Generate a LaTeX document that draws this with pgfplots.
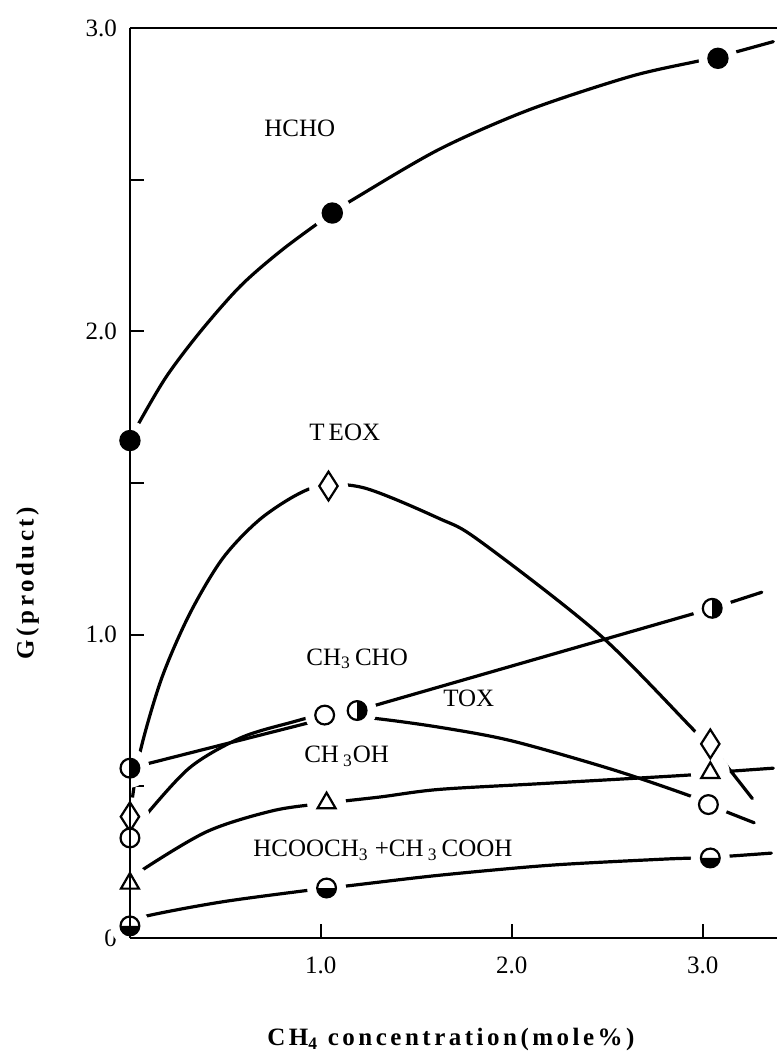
\documentclass[border=0pt]{standalone}
\usepackage{fontspec}
\setmainfont{Liberation Serif}
\newfontfamily\axfont[LetterSpace=14]{Liberation Serif}
\usepackage{pgfplots}
\pgfplotsset{compat=1.18}
\usetikzlibrary{calc}

\pgfplotsset{
  layers/gaplayers/.define layer set={
    axis background,axis grid,axis ticks,axis tick labels,pre main,main,axis lines,axis descriptions,axis foreground
  }{
    grid style={/pgfplots/on layer=axis grid},
    tick style={/pgfplots/on layer=axis ticks},
    axis line style={/pgfplots/on layer=axis lines},
    label style={/pgfplots/on layer=axis descriptions},
    ticklabel style={/pgfplots/on layer=axis tick labels},
  },
}

\pgfdeclareplotmark{halfright}{%
  \pgfscope
  \pgfpathcircle{\pgfpointorigin}{\pgfplotmarksize}%
  \pgfsetfillcolor{white}\pgfusepath{fill}%
  \endpgfscope
  \pgfscope
  \pgfpathmoveto{\pgfqpoint{0pt}{\pgfplotmarksize}}%
  \pgfpatharc{90}{-90}{\pgfplotmarksize}%
  \pgfpathclose
  \pgfsetfillcolor{black}\pgfusepath{fill}%
  \endpgfscope
  \pgfpathcircle{\pgfpointorigin}{\pgfplotmarksize}%
  \pgfusepath{stroke}%
}
\pgfdeclareplotmark{halfbottom}{%
  \pgfscope
  \pgfpathcircle{\pgfpointorigin}{\pgfplotmarksize}%
  \pgfsetfillcolor{white}\pgfusepath{fill}%
  \endpgfscope
  \pgfscope
  \pgfpathmoveto{\pgfqpoint{\pgfplotmarksize}{0pt}}%
  \pgfpatharc{0}{-180}{\pgfplotmarksize}%
  \pgfpathclose
  \pgfsetfillcolor{black}\pgfusepath{fill}%
  \endpgfscope
  \pgfpathcircle{\pgfpointorigin}{\pgfplotmarksize}%
  \pgfusepath{stroke}%
}
\pgfdeclareplotmark{talldiamond}{%
  \pgfpathmoveto{\pgfqpoint{0pt}{7.2pt}}%
  \pgfpathlineto{\pgfqpoint{4.6pt}{0pt}}%
  \pgfpathlineto{\pgfqpoint{0pt}{-7.2pt}}%
  \pgfpathlineto{\pgfqpoint{-4.6pt}{0pt}}%
  \pgfpathclose
  \pgfusepathqfillstroke
}

\newcommand{\lbl}{\fontsize{12.5}{14}\selectfont}

\begin{document}
\begin{tikzpicture}
\begin{axis}[
  name=ax,
  set layers=gaplayers,
  x=95.5pt, y=151.75pt,
  xmin=0, xmax=3.39, ymin=0, ymax=3,
  axis x line=box, axis y line=left,
  axis line style={-, line width=1.1pt, black},
  xtick pos=bottom, ytick pos=left,
  xtick align=inside, ytick align=inside,
  major tick length=7pt,
  tick style={line width=1pt, black},
  xtick={1,2,3}, xticklabels={1.0,2.0,3.0},
  ytick={0,0.5,1,1.5,2,2.5,3}, yticklabels={0,,1.0,,2.0,,3.0},
  ticklabel style={font=\lbl},
  xticklabel style={yshift=-6pt},
  yticklabel style={xshift=-3pt},
  /pgf/number format/assume math mode=true,
  xlabel={\axfont\bfseries CH\textsubscript{4} concentration(mole\%)},
  ylabel={\axfont\bfseries G(product)},
  xlabel style={font=\fontsize{12.5}{14}\selectfont, at={(axis description cs:0.496,-0.112)}, anchor=center},
  ylabel style={font=\fontsize{12.5}{14}\selectfont, at={(axis description cs:-0.158,0.39)}, anchor=center},
  clip=false,
  every axis plot/.append style={line cap=round},
]
% ---- curves ----
\addplot[on layer=pre main, smooth, line width=1.6pt] coordinates {
 (0,1.64) (0.04,1.69) (0.19,1.85) (0.37,2.00) (0.58,2.15) (0.80,2.27)
 (1.06,2.39) (1.17,2.435) (1.62,2.60) (2.09,2.73) (2.62,2.84) (2.97,2.89)
 (3.08,2.905) (3.37,2.955)};
\addplot[on layer=pre main, smooth, line width=1.6pt] coordinates {
 (0,0.40) (0.052,0.61) (0.166,0.856) (0.314,1.07) (0.49,1.255) (0.70,1.39)
 (0.96,1.485) (1.22,1.485) (1.62,1.383) (1.83,1.31) (2.46,1.00)
 (2.97,0.675) (3.04,0.635) (3.26,0.46)};
\addplot[on layer=pre main, line width=1.6pt] coordinates {
 (0,0.56) (1.19,0.75) (3.05,1.087) (3.31,1.14)};
\addplot[on layer=pre main, smooth, line width=1.6pt] coordinates {
 (0,0.33) (0.05,0.38) (0.31,0.56) (0.58,0.66) (0.84,0.71) (1.02,0.735)
 (1.27,0.725) (1.62,0.695) (2.0,0.65) (2.53,0.555) (2.95,0.465)
 (3.03,0.44) (3.27,0.38)};
\addplot[on layer=pre main, smooth, line width=1.6pt] coordinates {
 (0,0.18) (0.03,0.21) (0.40,0.35) (0.75,0.42) (1.03,0.445) (1.31,0.465)
 (1.62,0.49) (2.18,0.51) (2.92,0.537) (3.04,0.545) (3.37,0.56)};
\addplot[on layer=pre main, smooth, line width=1.6pt] coordinates {
 (0,0.04) (0.07,0.07) (0.49,0.12) (1.03,0.165) (1.14,0.172) (1.62,0.207)
 (2.2,0.24) (2.79,0.26) (3.04,0.266) (3.36,0.28)};
% ---- white gaps round the markers ----
\addplot[on layer=main, only marks, mark=*, mark size=9.5pt, draw=white, fill=white, mark options={draw=white, fill=white}] coordinates {
 (0,1.64) (1.06,2.39) (3.08,2.90)
 (0,0.40) (1.04,1.49) (3.04,0.64)
 (0,0.56) (1.19,0.75) (3.05,1.087)
 (0,0.33) (1.02,0.735) (3.03,0.44)
 (0,0.18) (1.03,0.445) (3.04,0.545)
 (0,0.04) (1.03,0.165) (3.04,0.264)};
% ---- markers ----
\addplot[on layer=axis foreground, only marks, mark=*, mark size=4.8pt, mark options={draw=black, fill=black, line width=1.1pt}] coordinates {
 (0,1.64) (1.06,2.39) (3.08,2.90)};
\addplot[on layer=axis foreground, only marks, mark=talldiamond, mark options={draw=black, fill=white, line width=1.1pt}] coordinates {
 (0,0.40) (1.04,1.49) (3.04,0.64)};
\addplot[on layer=axis foreground, only marks, mark=halfright, mark size=4.7pt, mark options={draw=black, line width=1.1pt}] coordinates {
 (0,0.56) (1.19,0.75) (3.05,1.087)};
\addplot[on layer=axis foreground, only marks, mark=*, mark size=4.7pt, mark options={draw=black, fill=white, line width=1.1pt}] coordinates {
 (0,0.33) (1.02,0.735) (3.03,0.44)};
\addplot[on layer=axis foreground, only marks, mark=triangle, mark size=5.2pt, mark options={draw=black, fill=white, line width=1.1pt}] coordinates {
 (0,0.18) (1.03,0.445) (3.04,0.545)};
\addplot[on layer=axis foreground, only marks, mark=halfbottom, mark size=4.7pt, mark options={draw=black, line width=1.1pt}] coordinates {
 (0,0.04) (1.03,0.165) (3.04,0.264)};
% ---- curve labels ----
\node[font=\lbl] at (axis cs:0.89,2.67) {HCHO};
\node[font=\lbl] at (axis cs:1.125,1.667) {T\,EOX};
\node[font=\lbl] at (axis cs:1.19,0.92) {CH\textsubscript{3}\,CHO};
\node[font=\lbl] at (axis cs:1.775,0.79) {TOX};
\node[font=\lbl] at (axis cs:1.135,0.60) {CH\,\textsubscript{3}OH};
\node[font=\lbl] at (axis cs:1.325,0.29) {HCOOCH\textsubscript{3} +CH\,\textsubscript{3}\,COOH};
\end{axis}
\pgfresetboundingbox
\path[use as bounding box] ($(ax.south west)+(-65pt,-59pt)$) rectangle ($(ax.north east)+(0pt,14pt)$);
\end{tikzpicture}
\end{document}
